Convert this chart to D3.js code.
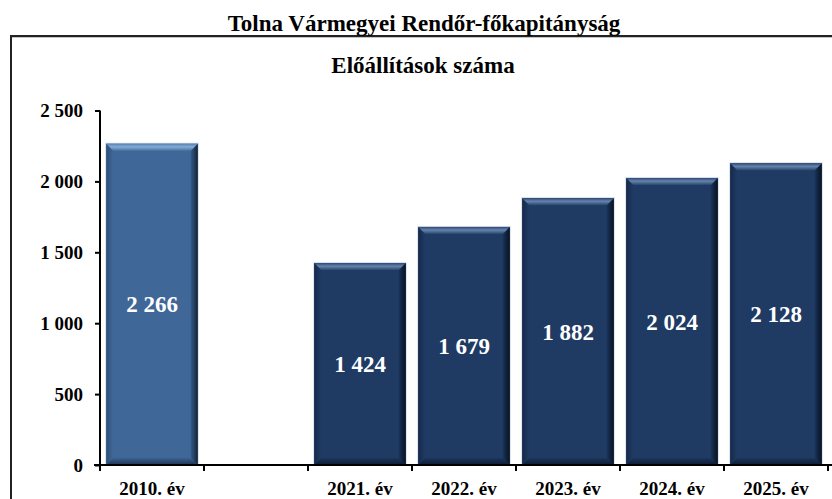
<!DOCTYPE html>
<html>
<head>
<meta charset="utf-8">
<script src="https://cdn.jsdelivr.net/npm/d3@7"></script>
<style>
  html, body { margin: 0; padding: 0; background: #fff; }
  svg { display: block; }
  text { font-family: "Liberation Serif", "Times New Roman", serif; font-weight: bold; }
</style>
</head>
<body>
<svg id="chart" width="832" height="499"></svg>
<script>
// ---- data ----
const categories = ["2010. év", "", "2021. év", "2022. év", "2023. év", "2024. év", "2025. év"];
const values = [2266, null, 1424, 1679, 1882, 2024, 2128];
const valueLabels = ["2 266", "", "1 424", "1 679", "1 882", "2 024", "2 128"];
const yTicks = [0, 500, 1000, 1500, 2000, 2500];
const yTickLabels = ["0", "500", "1 000", "1 500", "2 000", "2 500"];
const title = "Tolna Vármegyei Rendőr-főkapitányság";
const subtitle = "Előállítások száma";

// ---- layout ----
const svg = d3.select("#chart");
const W = 832, H = 499;
const plotLeft = 100, plotRight = 828, plotTop = 110.5, plotBottom = 465;

const x = d3.scaleBand().domain(categories).range([plotLeft, plotRight]).paddingInner(0).paddingOuter(0);
const y = d3.scaleLinear().domain([0, 2500]).range([plotBottom, plotTop]);

// frame
svg.append("line").attr("x1", 11).attr("x2", W).attr("y1", 36).attr("y2", 36)
  .attr("stroke", "#222").attr("stroke-width", 2);
svg.append("line").attr("x1", 12).attr("x2", W).attr("y1", 37.5).attr("y2", 37.5)
  .attr("stroke", "#c4c4c4").attr("stroke-width", 1);
svg.append("line").attr("x1", 11).attr("x2", 11).attr("y1", 35).attr("y2", H)
  .attr("stroke", "#222").attr("stroke-width", 2);

// titles
svg.append("text").attr("x", 424).attr("y", 31).attr("text-anchor", "middle")
  .attr("font-size", 23).attr("fill", "#000").text(title);
svg.append("text").attr("x", 423).attr("y", 73).attr("text-anchor", "middle")
  .attr("font-size", 23).attr("fill", "#000").text(subtitle);

// gradients
const defs = svg.append("defs");
function grad(id, x1, y1, x2, y2, stops) {
  const g = defs.append("linearGradient").attr("id", id)
    .attr("x1", x1).attr("y1", y1).attr("x2", x2).attr("y2", y2);
  stops.forEach(s => g.append("stop").attr("offset", s[0]).attr("stop-color", s[1]));
}
const palettes = {
  light: { main: "#3f6899", top: ["#5580b2", "#86abd5", "#4b74a6"], right: ["#365b88", "#142236"], left: ["#2f4f77", "#3f6899"], bottom: ["#3a6190", "#1f3453"] },
  dark:  { main: "#1f3b64", top: ["#2c4a77", "#6683ab", "#28466f"], right: ["#1a3457", "#081222"], left: ["#15294a", "#1f3b64"], bottom: ["#1c365c", "#0d1b32"] }
};
Object.entries(palettes).forEach(([k, p]) => {
  grad(k + "-top", 0, 0, 0, 1, [[0, p.top[0]], [0.45, p.top[1]], [1, p.top[2]]]);
  grad(k + "-right", 0, 0, 1, 0, [[0, p.right[0]], [1, p.right[1]]]);
  grad(k + "-left", 0, 0, 1, 0, [[0, p.left[0]], [1, p.left[1]]]);
  grad(k + "-bottom", 0, 0, 0, 1, [[0, p.bottom[0]], [1, p.bottom[1]]]);
});

// bars
const barW = x.bandwidth() * 0.88;
const data = categories.map((c, i) => ({ c, v: values[i], label: valueLabels[i], i }))
  .filter(d => d.v != null);
const bars = svg.append("g").selectAll("g").data(data).join("g");
const b = 7;
bars.each(function(d) {
  const g = d3.select(this);
  const key = d.i === 0 ? "light" : "dark";
  const p = palettes[key];
  const x0 = x(d.c) + (x.bandwidth() - barW) / 2, x1 = x0 + barW;
  const y0 = y(d.v), y1 = y(0);
  g.append("rect").attr("x", x0 - 1).attr("y", y0 - 1).attr("width", barW + 2).attr("height", y1 - y0 + 1)
    .attr("fill", "#d5dde8");
  g.append("rect").attr("x", x0).attr("y", y0).attr("width", barW).attr("height", y1 - y0).attr("fill", p.main);
  const poly = (pts, fill) => g.append("polygon").attr("points", pts.map(q => q.join(",")).join(" ")).attr("fill", fill);
  poly([[x0, y0], [x0 + b, y0 + b], [x0 + b, y1 - b], [x0, y1]], `url(#${key}-left)`);
  poly([[x1, y0], [x1, y1], [x1 - b, y1 - b], [x1 - b, y0 + b]], `url(#${key}-right)`);
  poly([[x0, y1], [x0 + b, y1 - b], [x1 - b, y1 - b], [x1, y1]], `url(#${key}-bottom)`);
  poly([[x0, y0], [x1, y0], [x1 - b, y0 + b], [x0 + b, y0 + b]], `url(#${key}-top)`);
  g.append("text").attr("x", (x0 + x1) / 2).attr("y", (y0 + y1) / 2)
    .attr("dy", "0.35em").attr("text-anchor", "middle").attr("font-size", 23).attr("fill", "#fff")
    .text(d.label);
});

// y axis
const yAxis = d3.axisLeft(y).tickValues(yTicks).tickSize(5).tickPadding(12)
  .tickFormat((d, i) => yTickLabels[i]);
const gy = svg.append("g").attr("transform", `translate(${plotLeft},0)`).call(yAxis);
gy.select(".domain").attr("d", `M0,${plotTop}V${plotBottom}`).attr("stroke", "#000").attr("stroke-width", 2);
gy.selectAll(".tick line").attr("stroke", "#000").attr("stroke-width", 2);
gy.selectAll(".tick text").attr("font-size", 19).attr("fill", "#000")
  .attr("font-family", "Liberation Serif, Times New Roman, serif").attr("font-weight", "bold");

// x axis
const gx = svg.append("g").attr("transform", `translate(0,${plotBottom})`);
gx.append("line").attr("x1", plotLeft - 6).attr("x2", W).attr("y1", 0).attr("y2", 0)
  .attr("stroke", "#000").attr("stroke-width", 2);
const boundaries = categories.map(c => x(c)).concat([x(categories[categories.length - 1]) + x.bandwidth()]);
gx.selectAll("line.tk").data(boundaries).join("line").attr("class", "tk")
  .attr("x1", d => d).attr("x2", d => d).attr("y1", 0).attr("y2", 6)
  .attr("stroke", "#000").attr("stroke-width", 2);
gx.selectAll("text").data(categories).join("text")
  .attr("x", d => x(d) + x.bandwidth() / 2).attr("y", 30)
  .attr("text-anchor", "middle").attr("font-size", 19).attr("fill", "#000").text(d => d);
</script>
</body>
</html>
